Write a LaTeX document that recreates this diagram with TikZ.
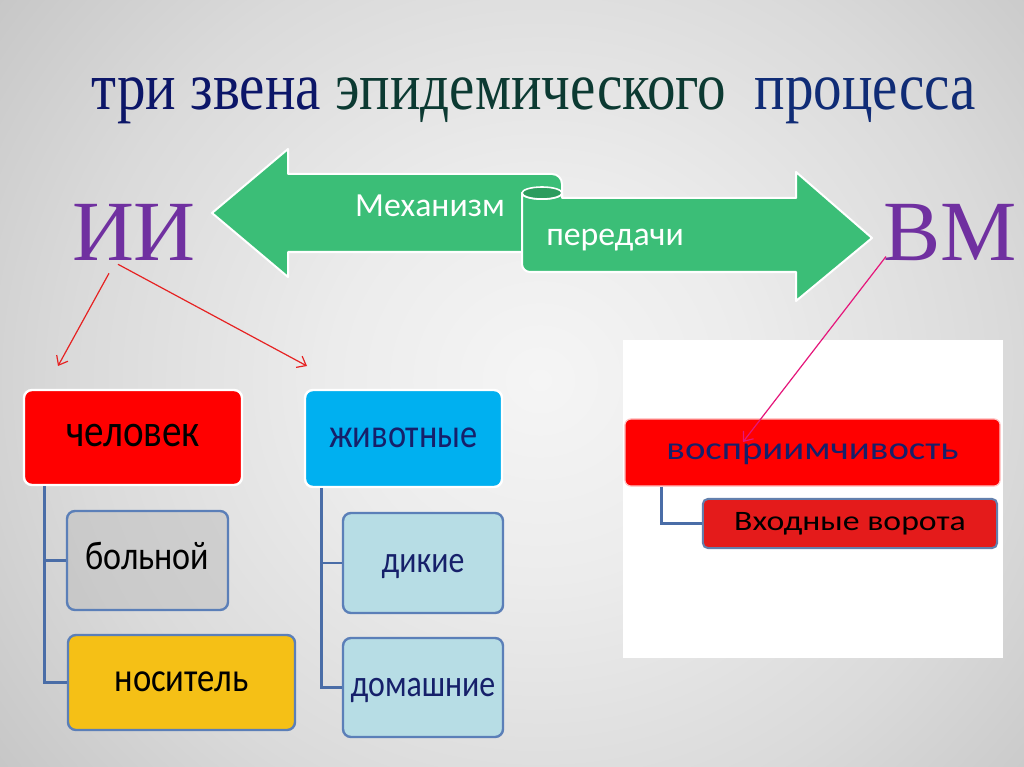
\documentclass[tikz,border=0pt]{standalone}
\usepackage{fontspec}
\setmainfont{Liberation Serif}
\newfontfamily\titlefont[FakeStretch=0.845]{Liberation Serif}
\newfontfamily\boxfont[FakeStretch=0.85]{Carlito}
\newfontfamily\plainsans{Carlito}
\newfontfamily\widefont[FakeStretch=1.2]{Carlito}
\usetikzlibrary{arrows.meta}

\definecolor{bandgreen}{RGB}{59,190,119}
\definecolor{rollgreen}{RGB}{44,156,94}
\definecolor{titlenavy}{RGB}{12,22,104}
\definecolor{titlegreen}{RGB}{12,58,50}
\definecolor{titleblue}{RGB}{16,44,118}
\definecolor{letterpurple}{RGB}{112,48,160}
\definecolor{treeline}{RGB}{74,109,167}
\definecolor{boxedge}{RGB}{91,127,184}
\definecolor{humanred}{RGB}{255,0,0}
\definecolor{animalblue}{RGB}{0,176,240}
\definecolor{paleteal}{RGB}{183,221,229}
\definecolor{carrieryellow}{RGB}{245,192,22}
\definecolor{gatered}{RGB}{228,27,27}
\definecolor{textnavy}{RGB}{22,32,106}
\definecolor{linkred}{RGB}{230,34,34}
\definecolor{linkpink}{RGB}{229,21,122}
\definecolor{sickgrey}{RGB}{185,185,185}
\definecolor{bga}{RGB}{245,245,245}
\definecolor{bgb}{RGB}{236,236,236}
\definecolor{bgc}{RGB}{218,218,218}
\definecolor{bgd}{RGB}{194,194,194}
\definecolor{bge}{RGB}{164,164,164}
\definecolor{bgf}{RGB}{138,138,138}

\pgfdeclareradialshading{slidebg}{\pgfpoint{0bp}{0bp}}{color(0bp)=(bga); color(8bp)=(bgb); color(18bp)=(bgc); color(28bp)=(bgd); color(39bp)=(bge); color(50bp)=(bgf)}

\begin{document}
\begin{tikzpicture}[x=0.025cm,y=-0.025cm,
	gband/.style={fill=bandgreen,draw=white,line width=0.05cm,line join=round},
	gtext/.style={text=white,font=\plainsans\fontsize{24}{26}\selectfont,inner sep=0pt},
	bigletters/.style={text=letterpurple,font=\fontsize{61}{64}\selectfont,inner sep=0pt,anchor=base},
	box/.style={rounded corners=0.2cm,line width=0.06cm,inner sep=0pt,draw=boxedge,text height=13.5pt,text depth=0pt},
	topbox/.style={box,draw=white},
	gatebox/.style={box,text height=10pt},
	tree/.style={draw=treeline,line width=0.07cm},
	redlink/.style={draw=linkred,line width=0.03cm,-{Straight Barb[length=0.2cm,width=0.32cm]}},
	pinklink/.style={draw=linkpink,line width=0.03cm,-{Straight Barb[length=0.2cm,width=0.32cm]}}]
\useasboundingbox (0,0) rectangle (1024,767);
\begin{scope}
	\clip (0,0) rectangle (1024,767);
	\shade[shading=slidebg] (-110,-240) rectangle (1190,1000);
\end{scope}

% title
\node[anchor=base,inner sep=0pt,font=\titlefont\fontsize{48}{50}\selectfont] (title) at (534,110)
	{\textcolor{titlenavy}{три звена} \textcolor{titlegreen}{эпидемического}\ \ \textcolor{titleblue}{процесса}};

\node[bigletters] (ii) at (134,260) {ИИ};
\node[bigletters] (vm) at (950,260) {ВМ};

% transmission scroll arrow
\path[gband] (212,213) -- (288,149) -- (288,174) [rounded corners=0.25cm] -- (562,174) [sharp corners] -- (562,210) -- (522,210) -- (522,252) -- (288,252) -- (288,277) -- cycle;
\path[gband] (522,193) arc[start angle=180,end angle=0,x radius=20,y radius=6] -- (562,198) -- (796,198) -- (796,172) -- (872,238) -- (796,301) -- (796,272) [rounded corners=0.2cm] -- (522,272) [sharp corners] -- cycle;
\path[fill=rollgreen,draw=white,line width=0.04cm] (542,193) ellipse[x radius=20,y radius=6];
\node[gtext] (mech) at (430,206) {Механизм};
\node[gtext] (pered) at (615,240) {передачи};

% source
\node[topbox,fill=humanred,font=\boxfont\fontsize{32.7}{34}\selectfont,minimum width=5.45cm,minimum height=2.375cm] (chel) at (133,437.5) {человек};
\node[box,fill=sickgrey,fill opacity=0.45,text opacity=1,font=\boxfont\fontsize{28.5}{30}\selectfont,minimum width=4.025cm,minimum height=2.475cm] (boln) at (147.5,560.5) {больной};
\node[box,fill=carrieryellow,font=\boxfont\fontsize{29}{31}\selectfont,minimum width=5.675cm,minimum height=2.375cm] (nos) at (181.5,682.5) {носитель};
\draw[tree] ([xshift=0.55cm]chel.south west) |- (boln.west);
\draw[tree] ([xshift=0.55cm]chel.south west) |- (nos.west);

\node[topbox,fill=animalblue,text=textnavy,font=\boxfont\fontsize{28.8}{30}\selectfont,minimum width=4.925cm,minimum height=2.425cm] (anim) at (403.5,438.5) {животные};
\node[box,fill=paleteal,text=textnavy,font=\boxfont\fontsize{26.6}{28}\selectfont,minimum width=4cm,minimum height=2.5cm] (dik) at (423,563) {дикие};
\node[box,fill=paleteal,text=textnavy,font=\boxfont\fontsize{26.7}{28}\selectfont,minimum width=4cm,minimum height=2.475cm] (dom) at (423,687.5) {домашние};
\draw[tree] ([xshift=0.45cm]anim.south west) |- (dik.west);
\draw[tree] ([xshift=0.45cm]anim.south west) |- (dom.west);

% susceptible
\fill[white] (623,340) rectangle (1003,658);
\node[gatebox,rounded corners=0.15cm,line width=0.03cm,draw=red!25!white,fill=humanred,text=textnavy,font=\widefont\fontsize{23}{25}\selectfont,minimum width=9.375cm,minimum height=1.675cm] (vospr) at (812.5,452.5) {восприимчивость};
\node[gatebox,rounded corners=0.12cm,line width=0.05cm,draw=boxedge!80!gray,fill=gatered,font=\widefont\fontsize{20}{22}\selectfont,minimum width=7.35cm,minimum height=1.225cm] (vhod) at (850,523.5) {Входные ворота};
\draw[tree] ([xshift=0.925cm]vospr.south west) |- (vhod.west);

% links
\coordinate (toman) at (58,366);
\coordinate (toanimal) at (307,366);
\coordinate (vtip) at (743,442);
\draw[redlink] ([shift={(-25,13)}]ii.south) -- (toman);
\draw[redlink] ([shift={(-16,4)}]ii.south) -- (toanimal);
\draw[pinklink] ([shift={(3,-4)}]vm.south west) -- (vtip);
\end{tikzpicture}
\end{document}
